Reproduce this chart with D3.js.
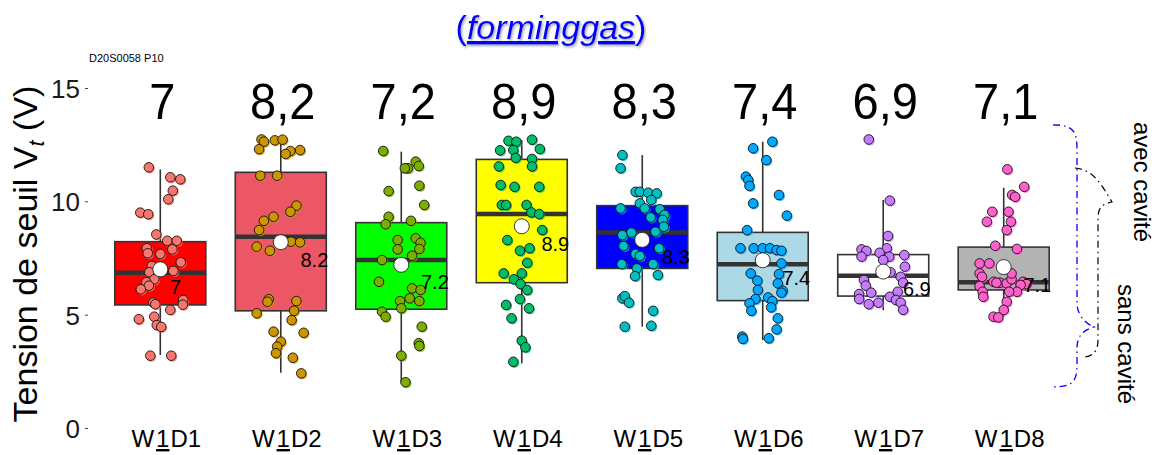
<!DOCTYPE html>
<html><head><meta charset="utf-8">
<script src="https://cdn.jsdelivr.net/npm/d3@7/dist/d3.min.js"></script>
<style>
html,body{margin:0;padding:0;background:#fff;}
svg text{font-family:"Liberation Sans",Arial,Helvetica,sans-serif;}
</style></head>
<body>
<svg id="chart" width="1155" height="455"></svg>
<script>
// ---------- data ----------
const categories = ["W1D1","W1D2","W1D3","W1D4","W1D5","W1D6","W1D7","W1D8"];
const means      = [7, 8.2, 7.2, 8.9, 8.3, 7.4, 6.9, 7.1];
const q1         = [5.43, 5.17, 5.24, 6.41, 7.04, 5.62, 5.82, 6.09];
const medians    = [6.85, 8.44, 7.41, 9.44, 8.63, 7.22, 6.72, 6.43];
const q3         = [8.22, 11.28, 9.06, 11.85, 9.81, 8.63, 7.65, 7.98];
const whiskerLo  = [3.22, 2.44, 2.04, 2.85, 4.47, 3.88, 5.2, 4.91];
const whiskerHi  = [11.41, 12.7, 12.19, 12.7, 12.04, 12.63, 10.06, 10.6];
const yTicks     = [0, 5, 10, 15];
const boxFills   = ["#FF0000","#EC5766","#00FF00","#FFFF00","#0000FF","#ADD8E6","#FFFFFF","#B3B3B3"];
const pointFills = ["#F8766D","#CD9600","#7CAE00","#00BE67","#00BFC4","#00A9FF","#C77CFF","#FF61CC"];
// points: [jitter (fraction of category step), value]
const ptsW1D1 = [[-0.095,11.5],[0.083,11.06],[0.166,10.97],[0.104,10.47],[0.066,10.09],[-0.166,9.5],[-0.10,9.43],[-0.033,8.54],[0.058,8.26],[0.137,8.26],[-0.112,7.93],[-0.104,7.71],[0,7.68],[0.1,7.88],[0.17,7.31],[-0.07,7.15],[0.108,6.93],[-0.091,6.87],[-0.05,6.56],[-0.116,6.43],[-0.095,6.28],[-0.162,6.12],[-0.058,5.53],[-0.041,5.46],[0.19,5.65],[0.187,5.44],[0.083,5.21],[-0.178,4.8],[-0.05,4.91],[-0.029,4.54],[0.008,4.46],[-0.083,3.19],[0.091,3.19]];
const ptsW1D2 = [[-0.16,12.73],[-0.14,12.63],[-0.18,12.3],[-0.05,12.69],[0.015,12.72],[0.08,12.22],[0.04,12.09],[0.16,12.26],[-0.17,11.13],[-0.03,11.13],[0.13,9.81],[0.08,9.54],[-0.06,9.32],[-0.14,9.14],[-0.18,8.73],[-0.2,8.0],[-0.09,7.82],[0.085,8.22],[0.16,8.19],[-0.10,5.68],[-0.11,5.57],[0.13,5.6],[0.11,5.17],[-0.2,5.06],[0.09,4.76],[0.19,4.2],[-0.06,4.25],[0,3.81],[-0.03,3.59],[-0.04,3.3],[0.1,3.1],[0.17,2.41]];
const ptsW1D3 = [[-0.15,12.22],[0.12,11.75],[0.055,11.46],[0.145,11.56],[0.03,11.46],[-0.105,10.45],[0.15,10.69],[0.19,9.84],[-0.105,9.32],[-0.13,8.99],[0.08,9.14],[-0.03,8.29],[-0.03,7.88],[0.12,8.37],[0.16,8.17],[0.15,7.9],[0.09,7.6],[-0.16,7.41],[-0.185,6.45],[0.09,6.16],[0.16,6.09],[0.07,5.72],[0.15,5.6],[-0.01,5.6],[0,5.28],[-0.16,5.13],[-0.13,4.91],[0.17,4.47],[0.145,3.74],[0.15,3.62],[0,3.19],[0.035,2.02]];
const ptsW1D4 = [[-0.11,12.67],[-0.045,12.63],[0.085,12.72],[-0.18,12.25],[-0.07,12.26],[0.15,12.31],[-0.05,11.92],[0.085,11.87],[-0.19,11.54],[0.085,11.54],[-0.175,10.72],[-0.06,10.64],[0.145,10.64],[-0.165,9.84],[-0.13,9.84],[0.04,9.84],[0.08,9.51],[0.145,9.44],[0.17,8.73],[-0.12,8.29],[-0.015,7.82],[0.065,7.93],[0.045,7.29],[-0.15,6.82],[0,6.82],[-0.065,6.56],[-0.01,6.35],[0.045,6.09],[-0.015,5.69],[-0.13,5.43],[0.06,5.28],[-0.085,4.84],[0,3.85],[0.03,3.56],[-0.07,2.92]];
const ptsW1D5 = [[-0.165,12.04],[-0.18,11.46],[-0.055,10.42],[-0.02,10.42],[0.05,10.38],[0.12,10.35],[0.075,10.06],[-0.02,9.91],[0.02,9.69],[-0.18,9.69],[0.145,9.65],[0.185,9.4],[0.17,9.18],[0.07,9.29],[0.18,8.88],[0.11,8.66],[-0.09,8.62],[-0.165,8.51],[-0.155,8.03],[0.14,7.93],[-0.055,7.68],[-0.02,7.59],[-0.17,7.23],[0.09,7.23],[-0.045,7.04],[-0.06,6.7],[0.13,6.75],[-0.165,5.72],[-0.145,5.82],[-0.11,5.53],[0.09,5.17],[-0.145,4.47],[0.075,4.51]];
const ptsW1D6 = [[0.08,12.63],[-0.08,12.34],[0.03,11.82],[-0.14,11.09],[-0.12,10.94],[-0.11,10.68],[0.135,10.28],[-0.08,9.91],[0.2,9.37],[-0.13,8.73],[-0.185,7.93],[-0.075,7.93],[0,7.93],[0.06,7.93],[0.115,7.85],[0.155,7.82],[0.155,7.26],[-0.1,6.82],[0.135,6.79],[-0.045,6.5],[0.125,6.38],[-0.04,6.09],[0.165,6.06],[0.155,5.97],[-0.06,5.69],[0.045,5.76],[-0.11,5.5],[0.08,5.6],[0.07,5.32],[-0.095,5.17],[0.125,4.84],[0.115,4.35],[-0.17,4.03],[-0.165,3.93],[0.05,3.96]];
const ptsW1D7 = [[-0.12,12.73],[0.055,10.03],[0.04,8.47],[-0.18,7.88],[-0.14,7.81],[-0.18,7.56],[0.03,7.93],[-0.03,7.73],[0.05,7.56],[0,7.41],[0.175,7.63],[0.18,7.12],[0.06,6.87],[0.145,6.67],[0.165,6.41],[-0.16,6.53],[-0.145,6.28],[-0.2,5.91],[-0.1,5.97],[-0.2,5.69],[-0.12,5.46],[-0.04,5.53],[0.055,5.79],[0.12,6.01],[0.105,5.65],[0.145,5.53],[0.165,5.21]];
const ptsW1D8 = [[0.03,11.41],[0.17,10.64],[0.07,10.28],[0.095,10.2],[-0.095,9.54],[0.04,9.54],[-0.14,9.1],[0.06,9.1],[0.025,8.73],[-0.07,8.04],[0.11,7.9],[-0.2,7.26],[-0.12,7.26],[-0.2,6.82],[-0.18,6.67],[-0.085,6.45],[-0.03,6.41],[-0.06,6.41],[-0.2,6.26],[0.025,6.38],[0.065,6.56],[0.16,6.45],[0.19,6.35],[0.14,6.31],[0.11,6.01],[0.045,6.01],[-0.175,6.01],[-0.17,5.79],[0.025,5.57],[0,5.21],[-0.085,4.91],[-0.045,4.88],[0.065,6.82]];
const points = [ptsW1D1, ptsW1D2, ptsW1D3, ptsW1D4, ptsW1D5, ptsW1D6, ptsW1D7, ptsW1D8];
// bracket annotations (value units): top, cusp, bottom
const braceAll   = [13.37, 4.46, 1.81];
const braceCav   = [11.47, 9.97, 3.13];
const braceLabels = ["avec cavité", "sans cavité"];

// ---------- chart ----------
const svg = d3.select("#chart");
const x = d3.scalePoint().domain(categories).range([88, 1076]).padding(0.6);
const y = d3.scaleLinear().domain([0, 15]).range([428, 88]);
const step = x.step();
const boxW = 91;

const defs = svg.append("defs");
const f = defs.append("filter").attr("id","tshadow").attr("x","-10%").attr("y","-30%").attr("width","120%").attr("height","160%");
f.append("feDropShadow").attr("dx",1.2).attr("dy",1.5).attr("stdDeviation",0.9).attr("flood-color","#777").attr("flood-opacity",0.7);

// title
const title = svg.append("text").attr("x", 551).attr("y", 39).attr("text-anchor","middle")
  .attr("font-size", 34).attr("fill","#0000FF").attr("filter","url(#tshadow)");
title.append("tspan").text("(");
title.append("tspan").attr("font-style","italic").attr("text-decoration","underline").text("forminggas");
title.append("tspan").text(")");

svg.append("text").attr("x", 89).attr("y", 62).attr("font-size", 11).attr("fill","#000").text("D20S0058 P10");

// y axis
const yAxis = svg.append("g").attr("transform","translate(88,0)")
  .call(d3.axisLeft(y).tickValues(yTicks).tickSize(3).tickPadding(5).tickFormat(d3.format("d")));
yAxis.select(".domain").remove();
yAxis.selectAll(".tick line").attr("stroke","#444").attr("stroke-width",1);
yAxis.selectAll(".tick text").attr("font-size", 26).attr("fill","#1a1a1a")
  .attr("font-family","Liberation Sans, Arial, sans-serif").attr("dy","0.36em");

// y title
const yt = svg.append("text").attr("transform","translate(37,254) rotate(-90)")
  .attr("text-anchor","middle").attr("font-size", 34).attr("fill","#000");
yt.append("tspan").text("Tension de seuil V");
yt.append("tspan").attr("font-style","italic").attr("font-size",22).attr("dy",7).text("t");
yt.append("tspan").attr("dy",-7).text(" (V)");

// x labels
const xl = svg.append("g");
categories.forEach((c) => {
  const t = xl.append("text").attr("x", x(c) + 6).attr("y", 447).attr("text-anchor","middle")
    .attr("font-size", 24).attr("fill","#000");
  t.append("tspan").text(c[0]);
  t.append("tspan").attr("dx",2).attr("text-decoration","underline").text(c[1]);
  t.append("tspan").attr("dx",1).text(c.slice(2));
});

// boxes
const boxes = svg.append("g");
categories.forEach((c, i) => {
  const cx = x(c);
  boxes.append("line").attr("x1",cx).attr("x2",cx).attr("y1",y(q3[i])).attr("y2",y(whiskerHi[i]))
    .attr("stroke","#333").attr("stroke-width",1.6);
  boxes.append("line").attr("x1",cx).attr("x2",cx).attr("y1",y(q1[i])).attr("y2",y(whiskerLo[i]))
    .attr("stroke","#333").attr("stroke-width",1.6);
  boxes.append("rect").attr("x",cx - boxW/2).attr("width",boxW)
    .attr("y",y(q3[i])).attr("height",y(q1[i]) - y(q3[i]))
    .attr("fill",boxFills[i]).attr("stroke","#333").attr("stroke-width",1.6);
  boxes.append("line").attr("x1",cx - boxW/2).attr("x2",cx + boxW/2)
    .attr("y1",y(medians[i])).attr("y2",y(medians[i]))
    .attr("stroke","#333").attr("stroke-width",4.5);
});

// points
const pg = svg.append("g");
categories.forEach((c, i) => {
  const cx = x(c);
  const g = pg.append("g");
  g.selectAll("circle.sh").data(points[i]).join("circle").attr("class","sh")
    .attr("cx", d => cx + d[0]*step + 1.2).attr("cy", d => y(d[1]) + 1.3).attr("r", 4.8)
    .attr("fill", pointFills[i]).attr("opacity",0.75);
  g.selectAll("circle.pt").data(points[i]).join("circle").attr("class","pt")
    .attr("cx", d => cx + d[0]*step).attr("cy", d => y(d[1])).attr("r", 4.8)
    .attr("fill", pointFills[i]).attr("stroke","#111").attr("stroke-width",0.9);
});

// means
const mg = svg.append("g");
categories.forEach((c, i) => {
  const cx = x(c);
  mg.append("circle").attr("cx",cx).attr("cy",y(means[i])).attr("r",7.5)
    .attr("fill","#fff").attr("stroke","#222").attr("stroke-width",0.9);
  const t = mg.append("text").attr("y", y(means[i]) + 24.5).attr("font-size", 20).attr("fill","#000")
    .text(String(means[i]));
  const w = t.node().getComputedTextLength();
  t.attr("x", cx + 3 + 0.6*w);
});

// top labels
categories.forEach((c, i) => {
  svg.append("text").attr("transform", `translate(${x(c) + 2},119) scale(1,1.06)`).attr("text-anchor","middle")
    .attr("font-size", 47).attr("fill","#000")
    .text(String(means[i]).replace(".", ","));
});

// braces
function brace(vals, x0, x1, xc, color) {
  const [t, cu, b] = vals.map(v => y(v));
  const p = d3.path();
  p.moveTo(x0, t);
  p.bezierCurveTo(x1 - 4, t, x1, t + 6, x1, t + 24);
  p.lineTo(x1, cu - 24);
  p.bezierCurveTo(x1, cu - 10, xc - 6, cu - 2, xc, cu);
  p.bezierCurveTo(xc - 10, cu + 3, x1, cu + 8, x1, cu + 22);
  p.lineTo(x1, b - 22);
  p.bezierCurveTo(x1, b - 6, x1 - 4, b, x0, b);
  svg.append("path").attr("d", p.toString()).attr("fill","none").attr("stroke",color)
    .attr("stroke-width",1.3).attr("stroke-dasharray","7,4,1.5,4");
}
brace(braceAll, 1053, 1077, 1094, "#0000FF");
// black brace (cusp near top)
(function(){
  const [t, cu, b] = braceCav.map(v => y(v));
  const p = d3.path();
  p.moveTo(1075, t);
  p.bezierCurveTo(1094, t + 2, 1101, t + 16, 1112, cu);
  p.bezierCurveTo(1102, cu + 2, 1098, cu + 6, 1098, cu + 16);
  p.lineTo(1098, b - 16);
  p.bezierCurveTo(1098, b - 6, 1092, b, 1083, b);
  svg.append("path").attr("d", p.toString()).attr("fill","none").attr("stroke","#000")
    .attr("stroke-width",1.2).attr("stroke-dasharray","7,4,1.5,4");
})();

svg.append("text").attr("transform","translate(1134,182) rotate(90)").attr("text-anchor","middle")
  .attr("font-size", 24).attr("fill","#000").text(braceLabels[0]);
svg.append("text").attr("transform","translate(1118,344) rotate(90)").attr("text-anchor","middle")
  .attr("font-size", 24).attr("fill","#000").text(braceLabels[1]);
</script>
</body></html>
